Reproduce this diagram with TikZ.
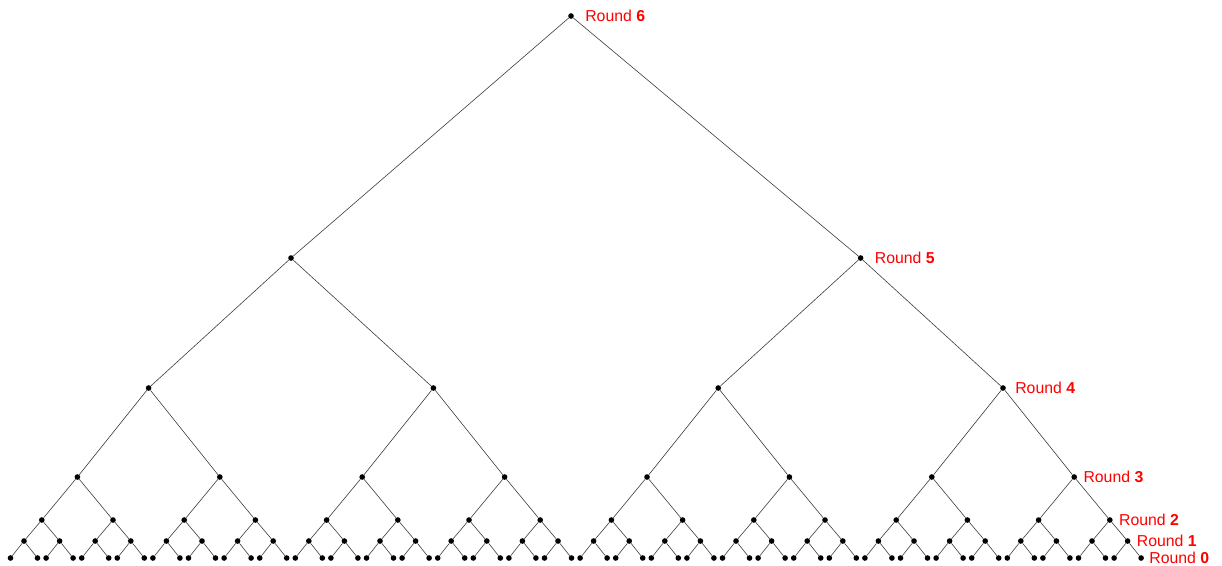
\documentclass[tikz,border=0pt]{standalone}
\usepackage{fontspec}
\setmainfont{Liberation Sans}
\begin{document}
\begin{tikzpicture}[x=0.02cm,y=-0.02cm,line join=round,line cap=round,
	dot/.style={circle,fill=black,inner sep=0pt,minimum size=3.2pt},
	edge/.style={draw=black!75,line width=0.35pt},
	roundlbl/.style={anchor=west,text=red,inner sep=0pt,font=\fontsize{9}{10}\selectfont}]
	\useasboundingbox (0,0) rectangle (1222,565);
	\def \xa{24};
	\def \dx{35.6};
	\def \dl{13.5};
	% round 0 (leaves)
	\foreach \j in {0,...,63}{
		\pgfmathsetmacro\xx{\xa+\dx*floor(\j/2)+(2*mod(\j,2)-1)*\dl}
		\node[dot] (r0-\j) at (\xx,558) {};
	}
	% rounds 1 to 5
	\foreach \lvl/\yy in {1/541,2/520,3/477,4/388,5/258}{
		\pgfmathtruncatemacro\nn{2^(6-\lvl)-1}
		\pgfmathsetmacro\ww{2^(\lvl-1)}
		\foreach \k in {0,...,\nn}{
			\pgfmathsetmacro\xx{\xa+\dx*(\ww*\k+(\ww-1)/2)}
			\node[dot] (r\lvl-\k) at (\xx,\yy) {};
		}
	}
	\node[dot] (r6-0) at (571,16) {};
	% edges
	\foreach \lvl in {1,...,6}{
		\pgfmathtruncatemacro\lower{\lvl-1}
		\pgfmathtruncatemacro\nn{2^(6-\lvl)-1}
		\foreach \k in {0,...,\nn}{
			\pgfmathtruncatemacro\ka{2*\k}
			\pgfmathtruncatemacro\kb{2*\k+1}
			\draw[edge] (r\lower-\ka) -- (r\lvl-\k) -- (r\lower-\kb);
		}
	}
	\foreach \lvl/\last/\gap in {6/0/14,5/1/14,4/3/12,3/7/9,2/15/9,1/31/9,0/63/8}
		\node[roundlbl,xshift=\gap*0.567pt] (lbl\lvl) at (r\lvl-\last.center) {Round \textbf{\lvl}};
\end{tikzpicture}
\end{document}
